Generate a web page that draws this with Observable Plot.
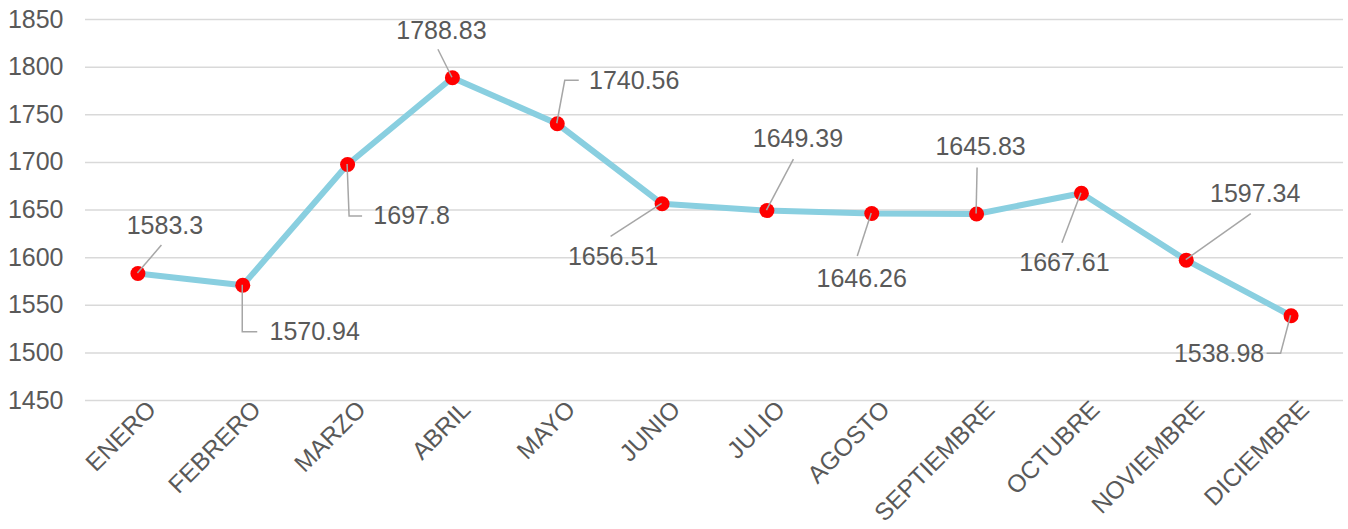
<!DOCTYPE html>
<html><head><meta charset="utf-8">
<script src="https://cdn.jsdelivr.net/npm/d3@7"></script>
<script src="https://cdn.jsdelivr.net/npm/@observablehq/plot@0.6"></script>
<style>
html,body{margin:0;padding:0;background:#fff;}
svg{font-family:"Liberation Sans",Arial,sans-serif;}
</style>
</head><body><div id="chart"></div>
<script>
const months = ["ENERO","FEBRERO","MARZO","ABRIL","MAYO","JUNIO","JULIO","AGOSTO","SEPTIEMBRE","OCTUBRE","NOVIEMBRE","DICIEMBRE"];
const values = [1583.3, 1570.94, 1697.8, 1788.83, 1740.56, 1656.51, 1649.39, 1646.26, 1645.83, 1667.61, 1597.34, 1538.98];
const yTicks = [1450, 1500, 1550, 1600, 1650, 1700, 1750, 1800, 1850];

// label placement: pixel offset from each point to its label centre
const labelOffsets = [[27,-48],[72,47],[64,52],[-11,-47],[77,-43],[-49,53],[31,-72],[-10,65],[4,-67],[-17,70],[69,-66],[-72,38]];
// leader-line bends, pixel offsets from each point
const leaderPaths = [
  [[24,-28]],
  [[0,47],[15,47]],
  [[2,52],[15,52]],
  [[-14,-28]],
  [[8,-43],[22,-43]],
  [[-51,33]],
  [[27,-51]],
  [[-14,43]],
  [[1,-46]],
  [[-19,50]],
  [[65,-46]],
  [[-10,38],[-24,38]]
];

const data = months.map((m, i) => ({month: m, value: values[i], i}));
const textColor = "#595959";

const leaders = (index, scales) => {
  const g = d3.create("svg:g").attr("fill", "none").attr("stroke", "#a6a6a6").attr("stroke-width", 1.5);
  data.forEach((d, i) => {
    const px = scales.x(d.month), py = scales.y(d.value);
    const pts = [[px, py], ...leaderPaths[i].map(([dx, dy]) => [px + dx, py + dy])];
    g.append("path").attr("d", "M" + pts.map(p => p.join(",")).join("L"));
  });
  return g.node();
};

const chart = Plot.plot({
  width: 1348,
  height: 529,
  marginLeft: 85,
  marginRight: 5,
  marginTop: 19,
  marginBottom: 129,
  style: {background: "#fff", fontFamily: "'Liberation Sans', Arial, sans-serif"},
  x: {type: "point", domain: months, padding: 0.5, round: false, label: null},
  y: {domain: [1450, 1850], label: null},
  marks: [
    Plot.gridY(yTicks, {stroke: "#d9d9d9", strokeOpacity: 1, strokeWidth: 1.5}),
    Plot.axisY(yTicks, {tickSize: 0, tickPadding: 22, fontSize: 25, color: textColor, label: null, tickFormat: d => String(d)}),
    Plot.axisX({tickSize: 0, tickPadding: 0, tickRotate: -45, fontSize: 24.5, color: textColor, dx: 14, dy: 5, label: null}),
    Plot.line(data, {x: "month", y: "value", stroke: "#89cfe0", strokeWidth: 6}),
    Plot.dot(data, {x: "month", y: "value", r: 7.5, fill: "#ff0000", stroke: "none"}),
    leaders,
    ...data.map((d, i) => Plot.text([d], {
      x: "month", y: "value", text: v => String(v.value),
      dx: labelOffsets[i][0], dy: labelOffsets[i][1],
      fontSize: 25, fill: textColor, textAnchor: "middle", lineAnchor: "middle"
    }))
  ]
});
document.getElementById("chart").appendChild(chart);
</script>
</body></html>
